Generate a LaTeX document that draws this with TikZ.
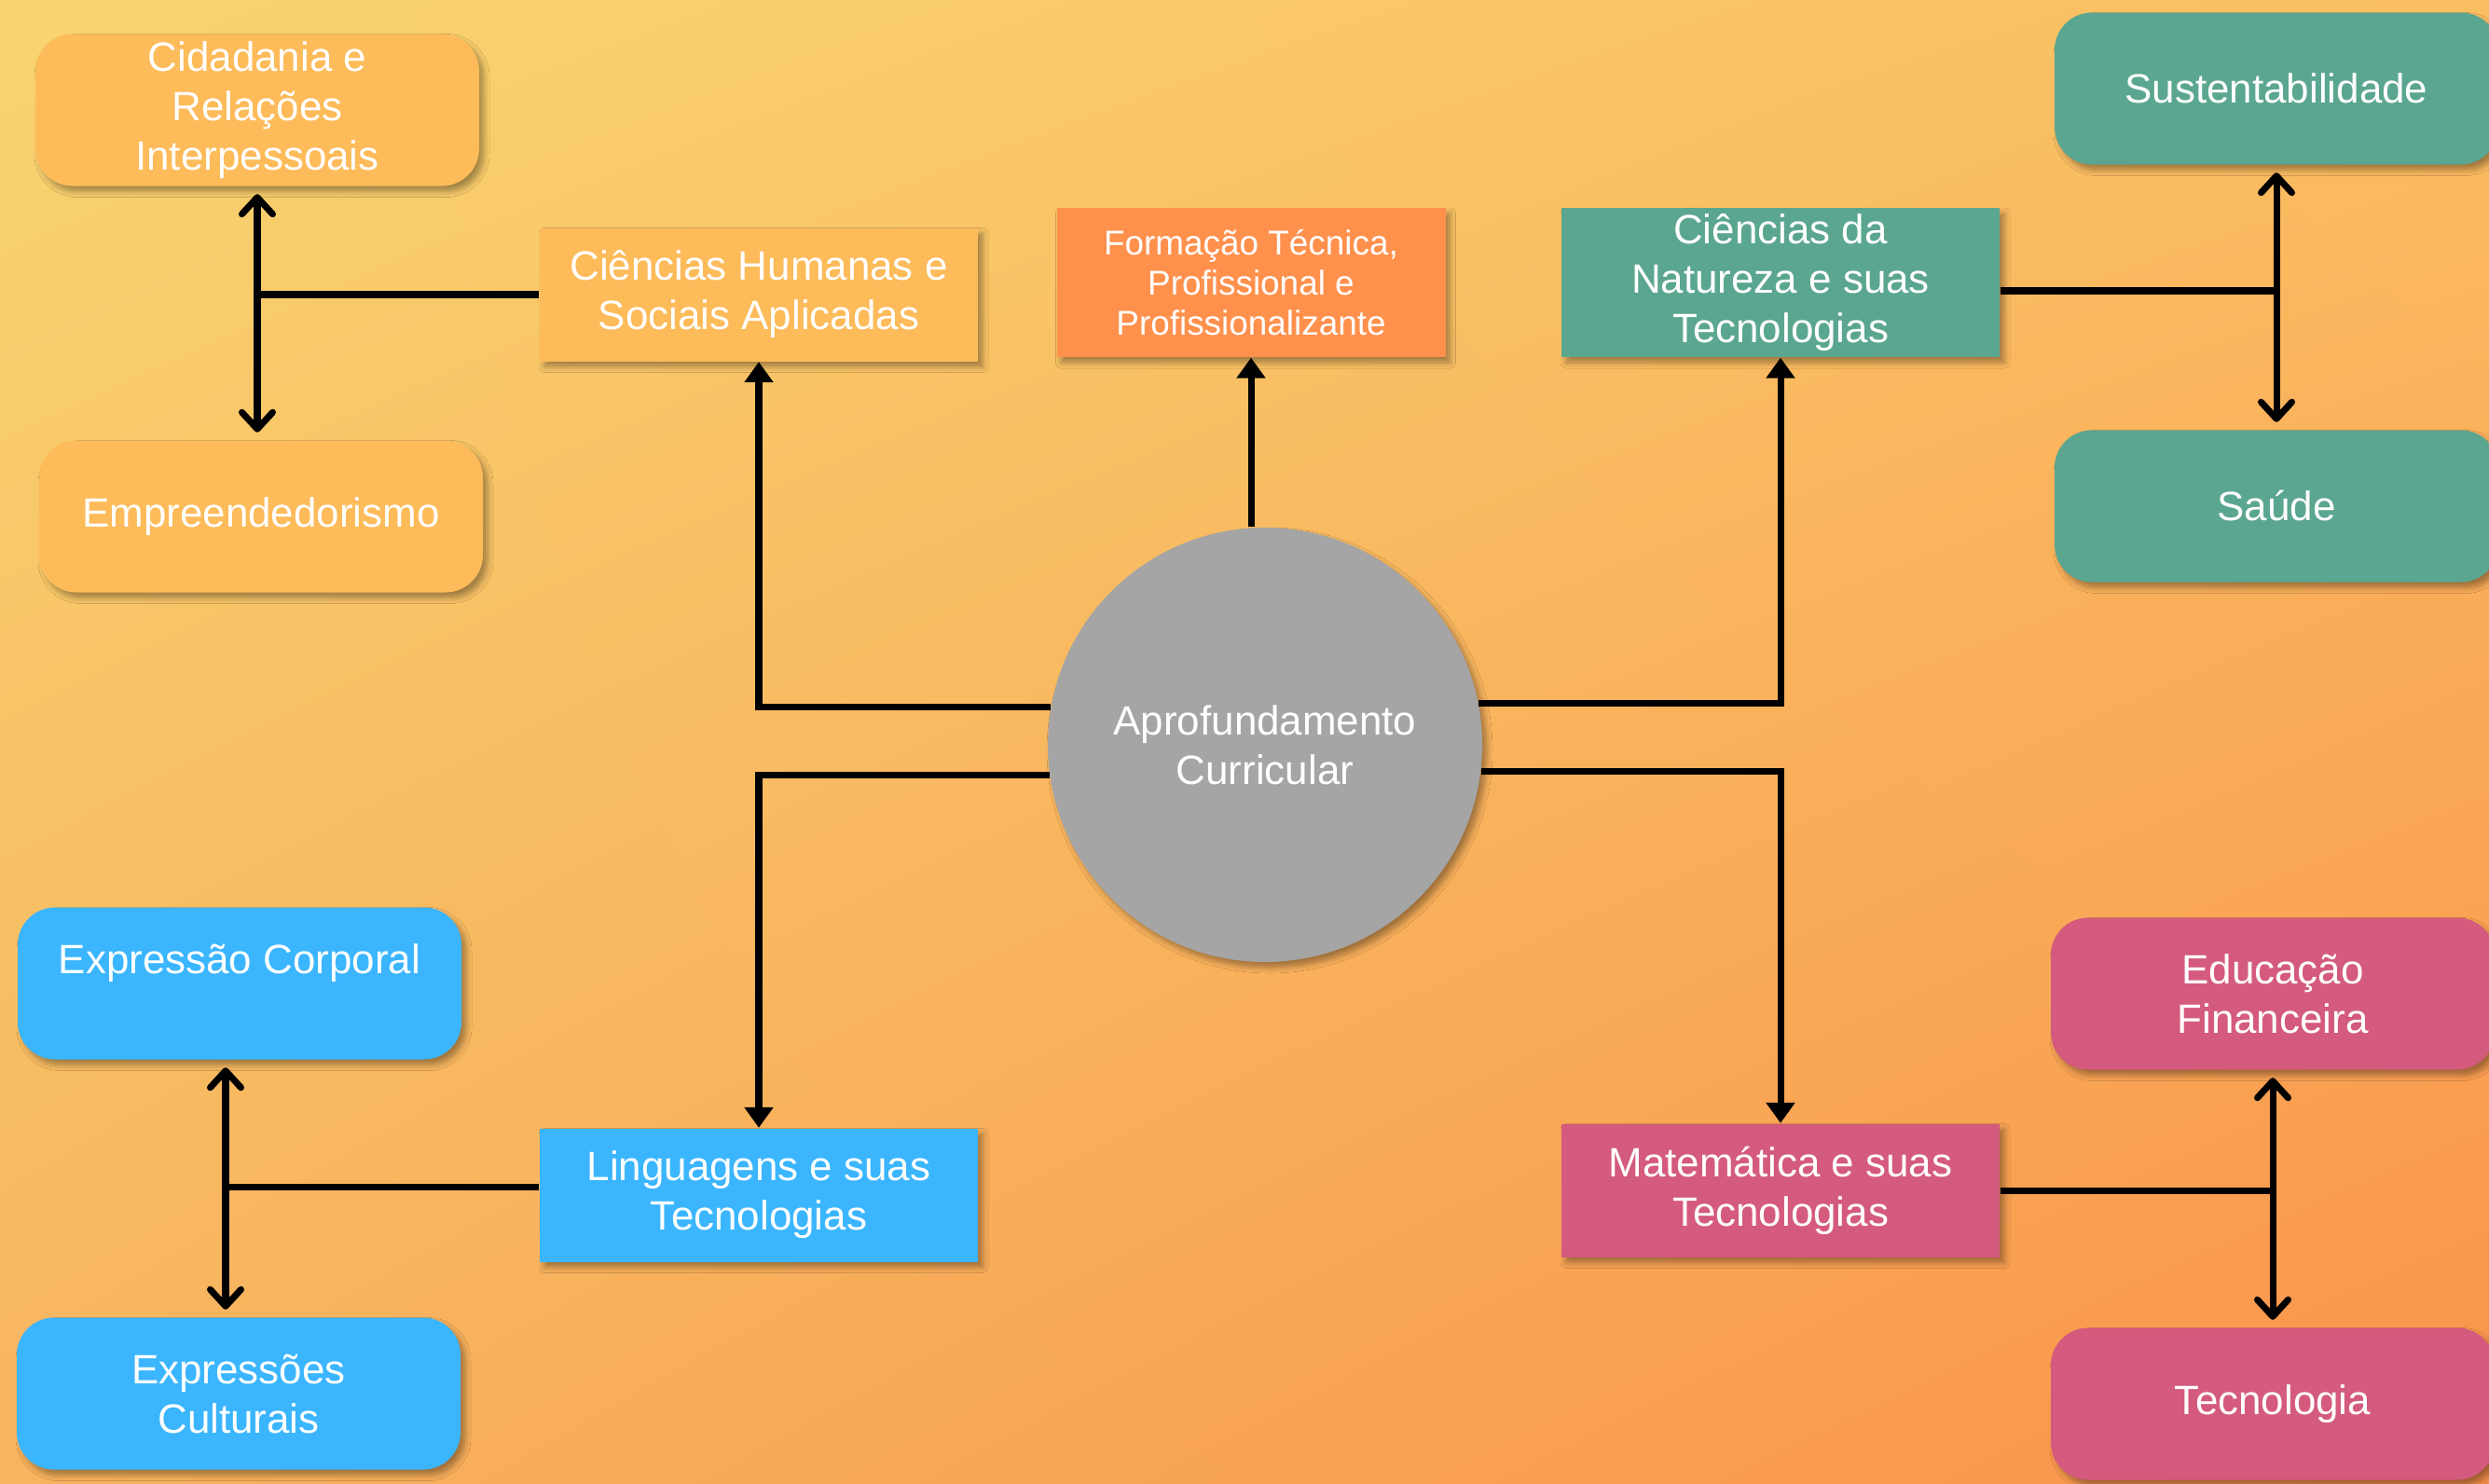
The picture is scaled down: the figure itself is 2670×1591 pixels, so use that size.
\documentclass[tikz,border=0pt]{standalone}
\usepackage{fontspec}
\setmainfont{Liberation Sans}
\usetikzlibrary{arrows.meta,shadows.blur,shadings}

\definecolor{bgA}{HTML}{F8D470}
\definecolor{bgB}{HTML}{FBBE62}
\definecolor{bgC}{HTML}{F8B45E}
\definecolor{bgD}{HTML}{F9924B}
\definecolor{sand}{HTML}{FDBB5A}
\definecolor{tangerine}{HTML}{FF914D}
\definecolor{teal}{HTML}{5BA690}
\definecolor{sky}{HTML}{3BB6FE}
\definecolor{rose}{HTML}{D45A7E}
\definecolor{hubgray}{HTML}{A5A5A5}
\definecolor{shade}{HTML}{6B4A20}

\newcommand\topicfont{\fontsize{12.5}{15.1}\selectfont}
\newcommand\formfont{\fontsize{10.5}{12.2}\selectfont}

\tikzset{
  topic/.style={rectangle, inner sep=0pt, text=white, font=\topicfont, align=center,
    blur shadow={shadow xshift=0.5mm, shadow yshift=-0.6mm, shadow opacity=35, shadow blur steps=6, shadow blur radius=0.6mm}},
  area/.style={topic, minimum width=47mm, minimum height=14.3mm},
  theme/.style={topic, rounded corners=4mm, minimum width=47.6mm, minimum height=16.3mm},
  hub/.style={topic, circle, fill=hubgray, minimum size=46.6mm},
  link/.style={line width=2pt, black},
  feed/.style={link, -{Triangle[length=2.2mm,width=3mm]}},
  pair/.style={link, {Straight Barb[length=1.8mm,width=3.3mm,round]}-{Straight Barb[length=1.8mm,width=3.3mm,round]},
    shorten <=0.8mm, shorten >=0.8mm},
}

\begin{document}
\begin{tikzpicture}[x=0.1mm,y=-0.1mm]
% background
\useasboundingbox (0,0) rectangle (2670,1591);
\clip (0,0) rectangle (2670,1591);
\shade[upper left=bgA, upper right=bgB, lower left=bgC, lower right=bgD] (0,0) rectangle (2670,1591);

% centre
\node[hub] (circ) at (1357,799) {Aprofundamento\\Curricular};

% the areas
\node[area, fill=sand] (hum) at (814,316) {Ciências Humanas e\\Sociais Aplicadas};
\node[area, fill=tangerine, minimum width=41.7mm, minimum height=16mm, font=\formfont] (form) at (1342,303) {Formação Técnica,\\Profissional e\\Profissionalizante};
\node[area, fill=teal, minimum height=16mm] (nat) at (1910,303) {Ciências da\\Natureza e suas\\Tecnologias};
\node[area, fill=sky] (ling) at (814,1282) {Linguagens e suas\\Tecnologias};
\node[area, fill=rose] (mat) at (1910,1277) {Matemática e suas\\Tecnologias};

% the themes
\node[theme, fill=sand] (cid) at (276,118) {Cidadania e\\Relações\\Interpessoais};
\node[theme, fill=sand] (emp) at (280,554) {Empreendedorismo};
\node[theme, fill=teal] (sus) at (2442,95) {Sustentabilidade};
\node[theme, fill=teal] (sau) at (2442,543) {Saúde};
\node[theme, fill=sky] (expc) at (257,1055) {Expressão Corporal\\\mbox{}};
\node[theme, fill=sky] (expcult) at (256,1495) {Expressões\\Culturais};
\node[theme, fill=rose] (edu) at (2438,1066) {Educação\\Financeira};
\node[theme, fill=rose] (tec) at (2438,1506) {Tecnologia};

% draw arrows from the centre
\draw[feed] (circ.170) -| (hum.south);
\draw[feed] (circ.north -| form.south) -- (form.south);
\draw[feed] (circ.11) -| (nat.south);
\draw[feed] (circ.188) -| (ling.north);
\draw[feed] (circ.-7) -| (mat.north);

% draw the branches to the themes
\draw[link] (hum.west) -- (hum.west -| cid.south);
\draw[pair] (cid.south) -- (cid.south |- emp.north);
\draw[link] ([yshift=-0.9mm]nat.east) -- ([yshift=-0.9mm]nat.east -| sus.south);
\draw[pair] (sus.south) -- (sau.north);
\draw[link] (mat.east) -- (mat.east -| edu.south);
\draw[pair] (edu.south) -- (tec.north);
\coordinate (lk) at ([xshift=-1.5mm]expc.south);
\draw[link] ([yshift=0.9mm]ling.west) -- ([yshift=0.9mm]ling.west -| lk);
\draw[pair] (lk) -- (lk |- expcult.north);
\end{tikzpicture}
\end{document}
